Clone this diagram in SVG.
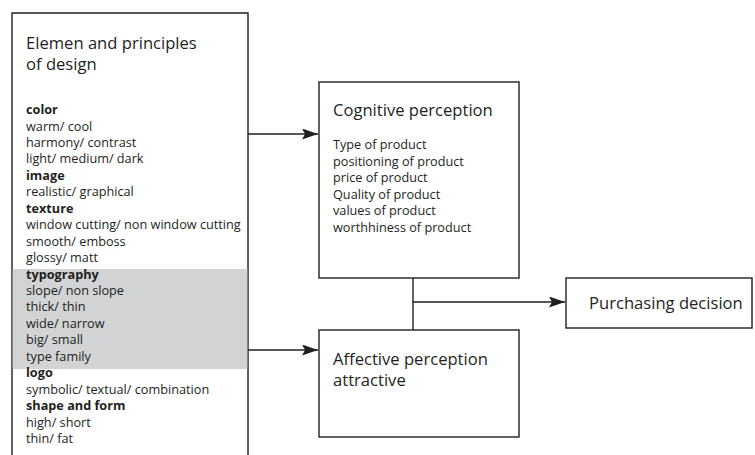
<svg xmlns="http://www.w3.org/2000/svg" width="755" height="455" viewBox="0 0 755 455">
<defs>
<style>
.box{fill:#fff;stroke:#231f20;stroke-width:1.4}
.ln{fill:none;stroke:#231f20;stroke-width:1.4}
.t{font-family:"Open Sans","Liberation Sans",sans-serif;fill:#231f20}
.s{font-size:12.7px}
.b{font-weight:bold}
.h{font-size:16.6px}
</style>
<marker id="ah" viewBox="0 0 16 11" refX="16" refY="5.5" markerWidth="16" markerHeight="11" markerUnits="userSpaceOnUse" orient="auto">
<path d="M0,0 L16,5.5 L0,11 L3,5.5 z" fill="#231f20"/>
</marker>
</defs>
<rect width="755" height="455" fill="#fff"/>
<g id="connectors">
<line class="ln" x1="248" y1="134" x2="318" y2="134" marker-end="url(#ah)"/>
<line class="ln" x1="248" y1="350" x2="318" y2="350" marker-end="url(#ah)"/>
<line class="ln" x1="413" y1="278" x2="413" y2="330"/>
<line class="ln" x1="413" y1="302" x2="565" y2="302" marker-end="url(#ah)"/>
</g>
<g id="design">
<path class="box" d="M12,460 V13 H248 V460"/>
<rect x="12.7" y="269" width="234.6" height="100" fill="#d1d3d4"/>
<text class="t h" x="26" y="49">Elemen and principles</text>
<text class="t h" x="26" y="70">of design</text>
<g class="t s">
<text x="26" y="114" class="b">color</text>
<text x="26" y="130.5">warm/ cool</text>
<text x="26" y="146.9">harmony/ contrast</text>
<text x="26" y="163.4">light/ medium/ dark</text>
<text x="26" y="179.8" class="b">image</text>
<text x="26" y="196.3">realistic/ graphical</text>
<text x="26" y="212.7" class="b">texture</text>
<text x="26" y="229.2">window cutting/ non window cutting</text>
<text x="26" y="245.6">smooth/ emboss</text>
<text x="26" y="262.1">glossy/ matt</text>
<text x="26" y="278.5" class="b">typography</text>
<text x="26" y="295">slope/ non slope</text>
<text x="26" y="311.4">thick/ thin</text>
<text x="26" y="327.9">wide/ narrow</text>
<text x="26" y="344.3">big/ small</text>
<text x="26" y="360.8">type family</text>
<text x="26" y="377.2" class="b">logo</text>
<text x="26" y="393.7">symbolic/ textual/ combination</text>
<text x="26" y="410.1" class="b">shape and form</text>
<text x="26" y="426.6">high/ short</text>
<text x="26" y="443">thin/ fat</text>
</g>
</g>
<g id="cognitive">
<rect class="box" x="319" y="82" width="200" height="196"/>
<text class="t h" x="333" y="116">Cognitive perception</text>
<g class="t s">
<text x="333" y="149">Type of product</text>
<text x="333" y="165.6">positioning of product</text>
<text x="333" y="182.2">price of product</text>
<text x="333" y="198.8">Quality of product</text>
<text x="333" y="215.4">values of product</text>
<text x="333" y="232">worthhiness of product</text>
</g>
</g>
<g id="affective">
<rect class="box" x="319" y="330" width="200" height="107"/>
<text class="t h" x="333" y="365">Affective perception</text>
<text class="t h" x="333" y="386">attractive</text>
</g>
<g id="purchasing">
<rect class="box" x="566" y="278" width="186" height="50"/>
<text class="t h" x="589" y="309">Purchasing decision</text>
</g>
</svg>
